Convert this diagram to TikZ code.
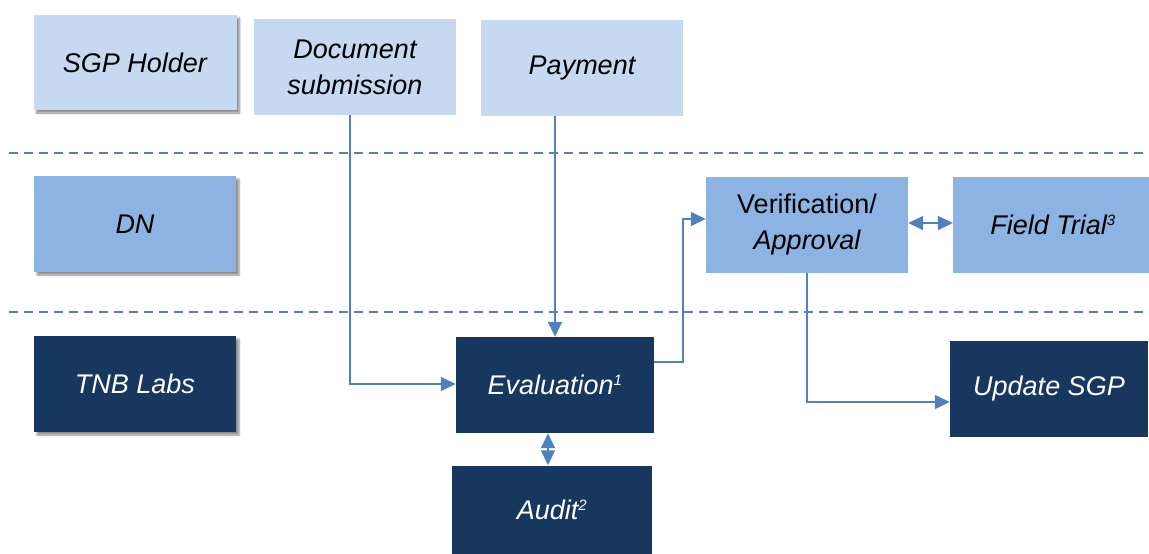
\documentclass[tikz,border=0pt]{standalone}
\usepackage{fontspec}
\setmainfont{Liberation Sans}
\usetikzlibrary{arrows.meta,shadows.blur}
\definecolor{lightbox}{HTML}{C6D9F1}
\definecolor{midbox}{HTML}{8DB3E2}
\definecolor{darkbox}{HTML}{17375E}
\definecolor{linec}{HTML}{4F81BD}
\newcommand{\sups}[1]{\textsuperscript{\fontsize{15}{15}\selectfont #1}}
\begin{document}
\begin{tikzpicture}[x=1pt,y=-1pt,
  box/.style={rectangle,inner sep=0pt,align=center,font=\fontsize{27}{36}\selectfont\itshape},
  lightb/.style={box,fill=lightbox,text=black},
  midb/.style={box,fill=midbox,text=black},
  darkb/.style={box,fill=darkbox,text=white},
  shad/.style={blur shadow={shadow xshift=3pt,shadow yshift=-3pt,shadow blur steps=6,shadow opacity=45}},
  lane/.style={draw=linec,line width=2pt,dash pattern=on 9pt off 6pt},
  arr/.style={draw=linec,line width=1.6pt,-{Triangle[length=15pt,width=14pt]}},
  darr/.style={draw=linec,line width=1.6pt,{Triangle[length=15pt,width=14pt]}-{Triangle[length=15pt,width=14pt]}}]
\useasboundingbox (0,0) rectangle (1149,554);
% lanes
\coordinate (l1a) at (9,153); \coordinate (l1b) at (1149,153);
\coordinate (l2a) at (9,312); \coordinate (l2b) at (1149,312);
\draw[lane] (l1a) -- (l1b);
\draw[lane] (l2a) -- (l2b);
% left column
\node[lightb,shad,minimum width=203pt,minimum height=95pt] (sgp) at (135,62.5) {SGP Holder};
\node[midb,shad,minimum width=202pt,minimum height=96pt] (dn) at (135,224) {DN};
\node[darkb,shad,minimum width=202pt,minimum height=96pt] (tnb) at (135,384) {TNB Labs};
% row 1
\node[lightb,minimum width=202pt,minimum height=96pt] (doc) at (355,67) {Document\\submission};
\node[lightb,minimum width=202pt,minimum height=96pt] (pay) at (582,68) {Payment};
% row 2
\node[midb,minimum width=202pt,minimum height=96pt] (ver) at (807,225) {{\upshape Verification/}\\Approval};
\node[midb,minimum width=200pt,minimum height=96pt] (field) at (1053,225) {Field Trial\sups{3}};
% row 3
\node[darkb,minimum width=198pt,minimum height=96pt] (eval) at (555,385) {Evaluation\sups{1}};
\node[darkb,minimum width=200pt,minimum height=89pt] (audit) at (552,510) {Audit\sups{2}};
\node[darkb,minimum width=198pt,minimum height=96pt] (upd) at (1049,389) {Update SGP};
% connectors
\draw[arr] ([xshift=-5pt]doc.south) |- ([yshift=1pt]eval.west);
\draw[arr] (pay.south -| eval.north) -- (eval.north);
\draw[arr] ([yshift=23pt]eval.east) -| ([xshift=-23pt,yshift=6pt]ver.west) -- ([yshift=6pt]ver.west);
\draw[darr] ([yshift=2pt]ver.east) -- ([yshift=2pt]field.west);
\draw[arr] (ver.south) |- ([yshift=-13pt]upd.west);
\draw[darr] ([xshift=-7pt]eval.south) -- ([xshift=-7pt]eval.south |- audit.north);
\end{tikzpicture}
\end{document}
